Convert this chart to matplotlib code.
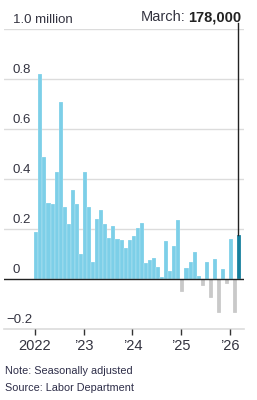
import numpy as np
import matplotlib
matplotlib.use("Agg")
import matplotlib.pyplot as plt

plt.rcParams['font.family'] = ['Liberation Sans', 'DejaVu Sans']

# monthly change in payrolls, millions, Jan 2022 .. Mar 2026
jobs = [0.19, 0.82, 0.49, 0.305, 0.30, 0.43, 0.71, 0.29, 0.22, 0.355, 0.30, 0.10,
        0.43, 0.29, 0.067, 0.24, 0.276, 0.22, 0.163, 0.213, 0.16, 0.156, 0.125, 0.156,
        0.173, 0.203, 0.225, 0.063, 0.076, 0.085, 0.049, 0.007, 0.153, 0.032, 0.132, 0.236,
        -0.05, 0.044, 0.067, 0.107, 0.013, -0.027, 0.067, -0.077, 0.08, -0.137, 0.04, -0.02,
        0.16, -0.135, 0.178]
year_labels = ['2022', '\u201923', '\u201924', '\u201925', '\u201926']
year_idx = [0, 12, 24, 36, 48]
ytick_vals = [1.0, 0.8, 0.6, 0.4, 0.2, 0, -0.2]
ytick_text = ['1.0 million', '0.8', '0.6', '0.4', '0.2', '0', '\u22120.2']

blue = '#7dcfe8'
grey = '#c9c9c9'
dark = '#17809e'
txt = '#333340'

fig = plt.figure(figsize=(2.57, 4.0), dpi=100)
ax = fig.add_axes([4/257, 71/400, 240/257, 299.7/400])

x = np.arange(len(jobs))
cols = [blue if v >= 0 else grey for v in jobs]
cols[-1] = dark
ax.bar(x, jobs, width=1.0, color=cols, edgecolor='#ffffff', linewidth=0.15, zorder=2)

ax.set_xlim(-7.96, 51.16)
ax.set_ylim(-0.2, 1.0)

for v in ytick_vals[:-2]:
    ax.axhline(v, color='#dcdcdc', lw=1, zorder=1)
ax.axhline(-0.2, color='#dcdcdc', lw=1.2, zorder=1, clip_on=False)
ax.axhline(0, color='#222222', lw=1, zorder=3)

for v, t in zip(ytick_vals, ytick_text):
    if v < 0:
        ax.text(-1.06, v + 0.012, t, ha='right', va='bottom', fontsize=9.5, color=txt)
    else:
        ax.text(-5.8, v + 0.012, t, ha='left', va='bottom', fontsize=9.5, color=txt)

for s in ax.spines.values():
    s.set_visible(False)
ax.set_yticks([])
ax.set_xticks([i - 0.35 for i in year_idx])
ax.set_xticklabels(year_labels, fontsize=10.5, color=txt)
ax.tick_params(axis='x', length=4, width=1, color='#333333', pad=3.5)

# annotation for latest month
ax.plot([49.8, 49.8], [jobs[-1], 1.025], color='#222222', lw=1, zorder=4, clip_on=False)
bold = fig.text(241.5/257, 1 - 21/400, '178,000', ha='right', va='baseline',
                fontsize=10.5, fontweight='bold', color='#222222')
fig.canvas.draw()
bb = bold.get_window_extent(fig.canvas.get_renderer())
fig.text((bb.x0 - 3) / 257, 1 - 21/400, 'March:', ha='right', va='baseline',
         fontsize=10.5, color=txt)

fig.text(5/257, 1 - 374/400, 'Note: Seasonally adjusted', fontsize=7.8, color='#2d2d48')
fig.text(5/257, 1 - 391/400, 'Source: Labor Department', fontsize=7.8, color='#2d2d48')

fig.savefig('out.png', dpi=100)
